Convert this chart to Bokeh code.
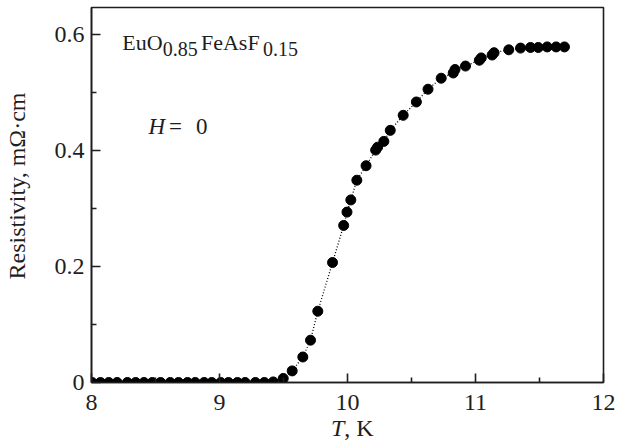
from bokeh.plotting import figure
from bokeh.models import Range1d, FixedTicker, Label, Div
from bokeh.layouts import column
from bokeh.embed import file_html
from bokeh.resources import INLINE

# Temperature (K) and resistivity (mOhm*cm)
T = [8.005, 8.07, 8.135, 8.20, 8.28, 8.345, 8.41, 8.475, 8.54, 8.615, 8.68,
     8.75, 8.81, 8.88, 8.94, 9.01, 9.07, 9.14, 9.20, 9.28, 9.35, 9.42,
     9.498, 9.568, 9.651, 9.711, 9.768, 9.883, 9.970, 9.996, 10.026, 10.073,
     10.145, 10.22, 10.235, 10.284, 10.334, 10.435, 10.538, 10.629, 10.732,
     10.826, 10.840, 10.922, 11.03, 11.045, 11.13, 11.145, 11.26, 11.352,
     11.43, 11.49, 11.56, 11.63, 11.695]
rho = [0.0, 0.0, 0.0, 0.0, 0.0, 0.0, 0.0, 0.0, 0.0, 0.0, 0.0,
       0.0, 0.0, 0.0, 0.0, 0.0, 0.0, 0.0, 0.0, 0.0, 0.0, 0.001,
       0.007, 0.020, 0.044, 0.073, 0.123, 0.207, 0.271, 0.294, 0.315, 0.349,
       0.374, 0.401, 0.406, 0.416, 0.435, 0.461, 0.484, 0.506, 0.525,
       0.534, 0.540, 0.546, 0.556, 0.560, 0.565, 0.569, 0.574, 0.577,
       0.578, 0.578, 0.579, 0.579, 0.579]

x_ticks = [8, 9, 10, 11, 12]
x_minor = [8.5, 9.5, 10.5, 11.5]
y_ticks = [0, 0.2, 0.4, 0.6]
y_minor = [0.1, 0.3, 0.5]
y_labels = {0: "0", 0.2: "0.2", 0.4: "0.4", 0.6: "0.6"}

FONT = "Liberation Serif"
INK = "#1e1e1e"

p = figure(width=617, height=422, output_backend="svg", toolbar_location=None,
           x_range=Range1d(8, 12), y_range=Range1d(0, 0.647),
           min_border_left=91, min_border_right=14, min_border_top=7,
           min_border_bottom=40)

p.xgrid.visible = False
p.ygrid.visible = False
p.outline_line_color = INK
p.outline_line_width = 1.6
p.background_fill_color = "white"
p.border_fill_color = "white"

p.xaxis.ticker = FixedTicker(ticks=x_ticks, minor_ticks=x_minor)
p.yaxis.ticker = FixedTicker(ticks=y_ticks, minor_ticks=y_minor)
p.yaxis.major_label_overrides = y_labels

for ax in (p.xaxis[0], p.yaxis[0]):
    ax.axis_line_color = INK
    ax.axis_line_width = 1.6
    ax.major_tick_line_color = INK
    ax.minor_tick_line_color = INK
    ax.major_tick_line_width = 1.6
    ax.minor_tick_line_width = 1.6
    ax.major_tick_in = 9
    ax.major_tick_out = 0
    ax.minor_tick_in = 5
    ax.minor_tick_out = 0
    ax.major_label_text_font = FONT
    ax.major_label_text_font_size = "24px"
    ax.major_label_text_color = INK
p.xaxis.major_label_standoff = 12
p.yaxis.major_label_standoff = 7

p.yaxis.axis_label = "\u00a0\u00a0\u00a0Resistivity, mΩ·cm"
p.yaxis.axis_label_text_font = FONT
p.yaxis.axis_label_text_font_style = "normal"
p.yaxis.axis_label_text_font_size = "24px"
p.yaxis.axis_label_text_color = INK
p.yaxis.axis_label_standoff = 22

p.line(T, rho, line_dash="1 2", line_width=1.3, color="black")
p.scatter(T, rho, size=10, color="black")

def lab(x, y, text, size="22px", style="normal"):
    p.add_layout(Label(x=x, y=y, text=text, text_font=FONT, text_font_size=size,
                       text_font_style=style, text_color=INK, text_align="left",
                       text_baseline="alphabetic"))

# Compound name with subscripts
lab(8.24, 0.586, "EuO")
lab(8.557, 0.575, "0.85", size="20px")
lab(8.855, 0.586, "FeAsF")
lab(9.34, 0.575, "0.15", size="20px")

# H = 0
lab(8.445, 0.442, "H", size="23px", style="italic")
lab(8.606, 0.442, "=", size="23px")
lab(8.816, 0.442, "0", size="23px")

xlabel = Div(
    text=('<div style="position:relative; left:326px; top:-11px; '
          'font-family:\'Liberation Serif\'; font-size:24px; line-height:24px; '
          'color:#1e1e1e; white-space:nowrap;"><i>T</i>, K</div>'),
    width=617, height=21)

layout = column(p, xlabel, spacing=0)
open("out.html", "w").write(file_html(layout, INLINE))
